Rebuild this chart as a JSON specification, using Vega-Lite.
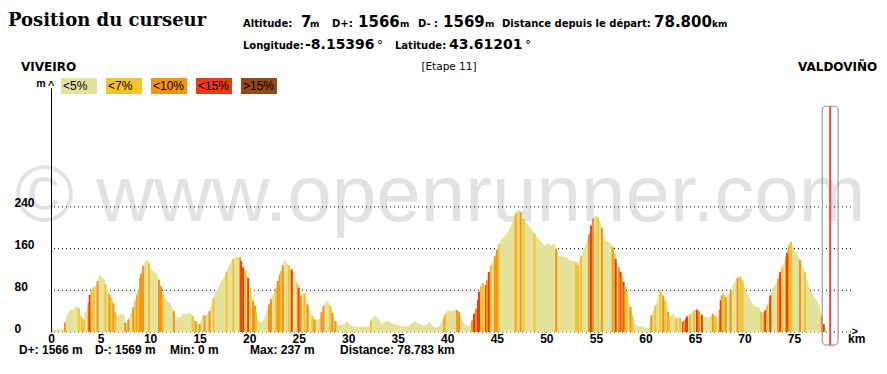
{
"$schema":"https://vega.github.io/schema/vega-lite/v6.json",
"width":800,"height":244,
"autosize":{"type":"none"},
"padding":{"left":51,"top":88,"right":36,"bottom":42},
"background":"white",
"config":{"view":{"stroke":null},"scale":{"continuousPadding":0}},
"datasets":{
"profile":[
{"km":0.0,"m":12,"g":"<5%"},{"km":0.1,"m":8,"g":"<5%"},{"km":0.2,"m":5,"g":"<5%"},{"km":1.3,"m":5,"g":"<5%"},{"km":1.4,"m":18,"g":"<10%"},{"km":1.6,"m":31,"g":"<5%"},{"km":1.9,"m":42,"g":"<5%"},{"km":2.3,"m":44,"g":"<5%"},{"km":2.6,"m":50,"g":"<5%"},{"km":2.8,"m":46,"g":"<7%"},{"km":2.9,"m":37,"g":"<5%"},{"km":3.1,"m":28,"g":"<7%"},{"km":3.3,"m":24,"g":"<7%"},{"km":3.4,"m":37,"g":"<5%"},{"km":3.6,"m":43,"g":"<5%"},{"km":3.8,"m":56,"g":"<10%"},{"km":3.9,"m":71,"g":"<15%"},{"km":4.1,"m":80,"g":"<7%"},{"km":4.3,"m":86,"g":"<7%"},{"km":4.6,"m":92,"g":"<5%"},{"km":4.7,"m":98,"g":"<10%"},{"km":4.9,"m":111,"g":"<5%"},{"km":5.1,"m":106,"g":"<5%"},{"km":5.4,"m":101,"g":"<5%"},{"km":5.5,"m":92,"g":"<7%"},{"km":5.9,"m":72,"g":"<10%"},{"km":6.1,"m":66,"g":"<7%"},{"km":6.3,"m":55,"g":"<10%"},{"km":6.5,"m":38,"g":"<7%"},{"km":6.7,"m":31,"g":"<5%"},{"km":7.0,"m":35,"g":"<5%"},{"km":7.4,"m":34,"g":"<5%"},{"km":7.5,"m":18,"g":"<10%"},{"km":7.7,"m":15,"g":"<5%"},{"km":7.8,"m":24,"g":"<10%"},{"km":8.0,"m":34,"g":"<5%"},{"km":8.3,"m":47,"g":"<10%"},{"km":8.5,"m":60,"g":"<7%"},{"km":8.7,"m":72,"g":"<10%"},{"km":8.8,"m":80,"g":"<7%"},{"km":9.0,"m":104,"g":"<10%"},{"km":9.1,"m":112,"g":"<10%"},{"km":9.3,"m":127,"g":"<10%"},{"km":9.5,"m":136,"g":"<5%"},{"km":9.8,"m":138,"g":"<5%"},{"km":9.9,"m":132,"g":"<7%"},{"km":10.0,"m":124,"g":"<5%"},{"km":10.3,"m":117,"g":"<5%"},{"km":10.7,"m":111,"g":"<5%"},{"km":10.9,"m":100,"g":"<10%"},{"km":11.0,"m":95,"g":"<5%"},{"km":11.1,"m":88,"g":"<10%"},{"km":11.3,"m":72,"g":"<7%"},{"km":11.7,"m":60,"g":"<5%"},{"km":12.0,"m":56,"g":"<5%"},{"km":12.3,"m":43,"g":"<5%"},{"km":12.4,"m":40,"g":"<10%"},{"km":12.7,"m":28,"g":"<5%"},{"km":13.0,"m":28,"g":"<5%"},{"km":13.3,"m":37,"g":"<5%"},{"km":13.6,"m":34,"g":"<5%"},{"km":14.0,"m":37,"g":"<5%"},{"km":14.3,"m":31,"g":"<7%"},{"km":14.6,"m":21,"g":"<10%"},{"km":15.0,"m":15,"g":"<10%"},{"km":15.3,"m":34,"g":"<5%"},{"km":15.5,"m":31,"g":"<10%"},{"km":15.9,"m":37,"g":"<5%"},{"km":16.0,"m":40,"g":"<10%"},{"km":16.2,"m":53,"g":"<5%"},{"km":16.4,"m":65,"g":"<7%"},{"km":16.5,"m":72,"g":"<5%"},{"km":16.9,"m":85,"g":"<5%"},{"km":17.2,"m":98,"g":"<5%"},{"km":17.6,"m":111,"g":"<5%"},{"km":17.7,"m":115,"g":"<7%"},{"km":17.9,"m":124,"g":"<5%"},{"km":18.2,"m":136,"g":"<5%"},{"km":18.4,"m":140,"g":"<7%"},{"km":18.6,"m":145,"g":"<5%"},{"km":19.1,"m":143,"g":"<10%"},{"km":19.2,"m":136,"g":"<15%"},{"km":19.4,"m":124,"g":"<15%"},{"km":19.6,"m":117,"g":"<7%"},{"km":19.9,"m":104,"g":"<15%"},{"km":20.1,"m":85,"g":"<7%"},{"km":20.2,"m":72,"g":"<5%"},{"km":20.4,"m":60,"g":"<10%"},{"km":20.6,"m":50,"g":"<10%"},{"km":20.7,"m":40,"g":"<7%"},{"km":20.9,"m":24,"g":"<5%"},{"km":21.1,"m":18,"g":"<5%"},{"km":21.4,"m":21,"g":"<5%"},{"km":21.7,"m":34,"g":"<5%"},{"km":22.0,"m":53,"g":"<10%"},{"km":22.2,"m":63,"g":"<10%"},{"km":22.6,"m":79,"g":"<5%"},{"km":22.7,"m":85,"g":"<7%"},{"km":22.9,"m":98,"g":"<10%"},{"km":23.1,"m":110,"g":"<10%"},{"km":23.2,"m":117,"g":"<7%"},{"km":23.4,"m":128,"g":"<10%"},{"km":23.6,"m":140,"g":"<5%"},{"km":23.9,"m":130,"g":"<5%"},{"km":24.0,"m":128,"g":"<7%"},{"km":24.2,"m":124,"g":"<5%"},{"km":24.3,"m":120,"g":"<15%"},{"km":24.5,"m":114,"g":"<5%"},{"km":24.9,"m":92,"g":"<7%"},{"km":25.0,"m":85,"g":"<15%"},{"km":25.2,"m":70,"g":"<10%"},{"km":25.6,"m":75,"g":"<7%"},{"km":25.9,"m":53,"g":"<10%"},{"km":26.2,"m":40,"g":"<5%"},{"km":26.4,"m":30,"g":"<7%"},{"km":26.6,"m":24,"g":"<10%"},{"km":27.1,"m":24,"g":"<5%"},{"km":27.3,"m":38,"g":"<10%"},{"km":27.5,"m":50,"g":"<10%"},{"km":27.7,"m":60,"g":"<5%"},{"km":28.1,"m":56,"g":"<5%"},{"km":28.2,"m":50,"g":"<7%"},{"km":28.4,"m":37,"g":"<10%"},{"km":28.7,"m":21,"g":"<10%"},{"km":29.1,"m":13,"g":"<5%"},{"km":29.6,"m":15,"g":"<5%"},{"km":29.9,"m":20,"g":"<5%"},{"km":30.2,"m":13,"g":"<5%"},{"km":30.9,"m":10,"g":"<5%"},{"km":31.9,"m":10,"g":"<5%"},{"km":32.2,"m":13,"g":"<5%"},{"km":32.3,"m":22,"g":"<7%"},{"km":32.7,"m":32,"g":"<5%"},{"km":33.0,"m":26,"g":"<5%"},{"km":33.4,"m":16,"g":"<5%"},{"km":33.7,"m":19,"g":"<5%"},{"km":34.0,"m":21,"g":"<5%"},{"km":34.4,"m":17,"g":"<5%"},{"km":34.7,"m":15,"g":"<5%"},{"km":35.4,"m":11,"g":"<5%"},{"km":36.0,"m":11,"g":"<5%"},{"km":36.7,"m":21,"g":"<5%"},{"km":37.2,"m":15,"g":"<5%"},{"km":37.7,"m":11,"g":"<5%"},{"km":38.2,"m":19,"g":"<5%"},{"km":38.7,"m":8,"g":"<5%"},{"km":39.2,"m":11,"g":"<5%"},{"km":39.7,"m":29,"g":"<10%"},{"km":39.8,"m":35,"g":"<7%"},{"km":40.0,"m":42,"g":"<5%"},{"km":40.4,"m":40,"g":"<5%"},{"km":40.9,"m":43,"g":"<5%"},{"km":41.0,"m":42,"g":"<10%"},{"km":41.2,"m":38,"g":"<10%"},{"km":41.5,"m":22,"g":"<5%"},{"km":41.9,"m":13,"g":"<5%"},{"km":42.2,"m":10,"g":"<5%"},{"km":42.5,"m":22,"g":"<10%"},{"km":42.7,"m":35,"g":"<15%"},{"km":42.9,"m":45,"g":"<10%"},{"km":43.1,"m":62,"g":"<15%"},{"km":43.2,"m":77,"g":"<15%"},{"km":43.4,"m":88,"g":"<7%"},{"km":43.5,"m":96,"g":"<5%"},{"km":43.6,"m":94,"g":"<7%"},{"km":43.9,"m":90,"g":"<15%"},{"km":44.0,"m":99,"g":"<10%"},{"km":44.2,"m":115,"g":"<15%"},{"km":44.4,"m":128,"g":"<7%"},{"km":44.7,"m":138,"g":"<5%"},{"km":44.8,"m":145,"g":"<10%"},{"km":45.0,"m":157,"g":"<10%"},{"km":45.2,"m":168,"g":"<7%"},{"km":45.4,"m":176,"g":"<5%"},{"km":45.7,"m":182,"g":"<5%"},{"km":46.0,"m":189,"g":"<5%"},{"km":46.4,"m":202,"g":"<5%"},{"km":46.7,"m":218,"g":"<5%"},{"km":46.9,"m":226,"g":"<10%"},{"km":47.0,"m":230,"g":"<7%"},{"km":47.2,"m":235,"g":"<5%"},{"km":47.4,"m":230,"g":"<10%"},{"km":47.5,"m":227,"g":"<5%"},{"km":47.7,"m":218,"g":"<7%"},{"km":47.8,"m":214,"g":"<5%"},{"km":48.2,"m":205,"g":"<5%"},{"km":48.5,"m":198,"g":"<5%"},{"km":48.8,"m":189,"g":"<7%"},{"km":49.2,"m":179,"g":"<5%"},{"km":49.5,"m":173,"g":"<5%"},{"km":49.8,"m":166,"g":"<5%"},{"km":50.2,"m":171,"g":"<5%"},{"km":50.5,"m":166,"g":"<5%"},{"km":50.8,"m":170,"g":"<5%"},{"km":51.0,"m":160,"g":"<10%"},{"km":51.2,"m":147,"g":"<5%"},{"km":51.7,"m":144,"g":"<5%"},{"km":52.0,"m":144,"g":"<5%"},{"km":52.3,"m":138,"g":"<5%"},{"km":52.8,"m":136,"g":"<5%"},{"km":53.0,"m":134,"g":"<7%"},{"km":53.2,"m":128,"g":"<7%"},{"km":53.3,"m":138,"g":"<5%"},{"km":53.5,"m":146,"g":"<7%"},{"km":53.7,"m":154,"g":"<5%"},{"km":54.0,"m":170,"g":"<5%"},{"km":54.3,"m":187,"g":"<10%"},{"km":54.5,"m":204,"g":"<15%"},{"km":54.7,"m":218,"g":"<10%"},{"km":55.0,"m":224,"g":"<5%"},{"km":55.2,"m":220,"g":"<7%"},{"km":55.4,"m":214,"g":"<5%"},{"km":55.6,"m":200,"g":"<10%"},{"km":55.7,"m":195,"g":"<5%"},{"km":56.0,"m":176,"g":"<5%"},{"km":56.5,"m":170,"g":"<5%"},{"km":56.7,"m":163,"g":"<10%"},{"km":56.8,"m":157,"g":"<5%"},{"km":56.9,"m":150,"g":"<7%"},{"km":57.0,"m":140,"g":"<15%"},{"km":57.2,"m":128,"g":"<5%"},{"km":57.3,"m":124,"g":"<10%"},{"km":57.5,"m":115,"g":"<15%"},{"km":57.6,"m":106,"g":"<10%"},{"km":57.8,"m":96,"g":"<15%"},{"km":57.9,"m":88,"g":"<10%"},{"km":58.1,"m":78,"g":"<7%"},{"km":58.2,"m":70,"g":"<5%"},{"km":58.5,"m":48,"g":"<10%"},{"km":58.7,"m":30,"g":"<7%"},{"km":58.8,"m":19,"g":"<5%"},{"km":59.2,"m":11,"g":"<5%"},{"km":59.8,"m":10,"g":"<5%"},{"km":60.3,"m":6,"g":"<5%"},{"km":60.6,"m":32,"g":"<10%"},{"km":61.0,"m":51,"g":"<7%"},{"km":61.3,"m":67,"g":"<5%"},{"km":61.5,"m":80,"g":"<7%"},{"km":61.8,"m":70,"g":"<10%"},{"km":62.0,"m":60,"g":"<7%"},{"km":62.1,"m":51,"g":"<5%"},{"km":62.3,"m":38,"g":"<10%"},{"km":62.4,"m":29,"g":"<7%"},{"km":62.8,"m":35,"g":"<5%"},{"km":63.1,"m":26,"g":"<7%"},{"km":63.4,"m":29,"g":"<5%"},{"km":63.5,"m":27,"g":"<7%"},{"km":63.8,"m":19,"g":"<15%"},{"km":63.9,"m":22,"g":"<10%"},{"km":64.1,"m":26,"g":"<15%"},{"km":64.2,"m":30,"g":"<15%"},{"km":64.3,"m":32,"g":"<5%"},{"km":64.5,"m":34,"g":"<7%"},{"km":64.6,"m":35,"g":"<5%"},{"km":64.9,"m":41,"g":"<7%"},{"km":65.0,"m":42,"g":"<5%"},{"km":65.2,"m":43,"g":"<15%"},{"km":65.3,"m":43,"g":"<5%"},{"km":65.4,"m":40,"g":"<10%"},{"km":65.6,"m":35,"g":"<5%"},{"km":65.7,"m":33,"g":"<15%"},{"km":66.0,"m":29,"g":"<5%"},{"km":66.5,"m":28,"g":"<5%"},{"km":66.8,"m":35,"g":"<10%"},{"km":67.0,"m":32,"g":"<7%"},{"km":67.1,"m":29,"g":"<7%"},{"km":67.3,"m":19,"g":"<5%"},{"km":67.5,"m":42,"g":"<10%"},{"km":67.6,"m":61,"g":">15%"},{"km":67.7,"m":70,"g":"<10%"},{"km":67.8,"m":77,"g":"<5%"},{"km":67.9,"m":73,"g":"<7%"},{"km":68.1,"m":67,"g":"<10%"},{"km":68.5,"m":74,"g":"<5%"},{"km":68.6,"m":78,"g":"<10%"},{"km":68.8,"m":90,"g":"<5%"},{"km":69.1,"m":99,"g":"<5%"},{"km":69.3,"m":104,"g":"<10%"},{"km":69.5,"m":109,"g":"<5%"},{"km":69.6,"m":106,"g":"<7%"},{"km":69.8,"m":99,"g":"<7%"},{"km":70.1,"m":83,"g":"<5%"},{"km":70.5,"m":67,"g":"<5%"},{"km":70.8,"m":54,"g":"<5%"},{"km":71.1,"m":48,"g":"<5%"},{"km":71.5,"m":47,"g":"<5%"},{"km":71.7,"m":38,"g":"<7%"},{"km":71.8,"m":32,"g":"<5%"},{"km":72.0,"m":38,"g":"<10%"},{"km":72.1,"m":42,"g":"<15%"},{"km":72.3,"m":52,"g":"<7%"},{"km":72.5,"m":61,"g":"<5%"},{"km":72.6,"m":70,"g":"<15%"},{"km":72.8,"m":83,"g":"<5%"},{"km":73.1,"m":90,"g":"<5%"},{"km":73.4,"m":102,"g":"<10%"},{"km":73.6,"m":115,"g":"<15%"},{"km":73.8,"m":125,"g":"<7%"},{"km":74.1,"m":138,"g":"<5%"},{"km":74.2,"m":145,"g":"<10%"},{"km":74.3,"m":152,"g":"<15%"},{"km":74.4,"m":160,"g":"<5%"},{"km":74.5,"m":166,"g":"<10%"},{"km":74.6,"m":170,"g":"<7%"},{"km":74.7,"m":173,"g":"<7%"},{"km":74.9,"m":163,"g":"<5%"},{"km":75.3,"m":150,"g":"<5%"},{"km":75.6,"m":138,"g":"<10%"},{"km":75.9,"m":125,"g":"<5%"},{"km":76.1,"m":115,"g":"<7%"},{"km":76.3,"m":102,"g":"<5%"},{"km":76.6,"m":83,"g":"<5%"},{"km":76.9,"m":70,"g":"<5%"},{"km":77.3,"m":61,"g":"<5%"},{"km":77.6,"m":48,"g":"<5%"},{"km":77.8,"m":30,"g":"<10%"},{"km":78.0,"m":15,"g":"<15%"},{"km":78.1,"m":10,"g":"<5%"},{"km":78.3,"m":3,"g":"<5%"}
]
},
"layer":[
{"data":{"values":[{"t":"© www.openrunner.com","km":-3.63,"m":213}]},
 "mark":{"type":"text","font":"Liberation Sans","fontSize":80,"color":"#e2e2e2","align":"left","baseline":"alphabetic"},
 "encoding":{"x":{"field":"km","type":"quantitative","scale":{"domain":[0,80.75],"nice":false,"zero":false,"padding":0}},
  "y":{"field":"m","type":"quantitative","scale":{"domain":[0,468],"nice":false,"zero":false}},
  "text":{"field":"t"}}},
{"data":{"values":[{"m":0},{"m":80},{"m":160},{"m":240}]},
 "mark":{"type":"rule","color":"black","strokeWidth":1,"strokeDash":[1,3]},
 "encoding":{"y":{"field":"m","type":"quantitative","scale":{"domain":[0,468],"nice":false,"zero":false}}}},
{"data":{"name":"profile"},
 "mark":{"type":"area","color":"#e5e39a","interpolate":"linear"},
 "encoding":{"x":{"field":"km","type":"quantitative","scale":{"domain":[0,80.75],"nice":false,"zero":false,"padding":0},
   "axis":{"values":[0,5,10,15,20,25,30,35,40,45,50,55,60,65,70,75],"grid":false,"domain":false,"ticks":false,"tickSize":0,"labelFont":"Liberation Sans","labelFontWeight":"bold","labelFontSize":12,"labelColor":"black","labelPadding":1,"title":null,"labelFlush":false,"labelOverlap":false,"zindex":1}},
  "y":{"field":"m","type":"quantitative","scale":{"domain":[0,468],"nice":false,"zero":false},
   "axis":{"values":[0,80,160,240],"grid":false,"domain":true,"domainColor":"black","domainWidth":1,"ticks":false,"tickSize":0,"labelAlign":"left","labelBaseline":"alphabetic","labelPadding":37,"labelFont":"Liberation Sans","labelFontWeight":"bold","labelFontSize":12,"labelColor":"black","title":null,"zindex":1}}}},
{"data":{"name":"profile"},
 "transform":[{"filter":"datum.g != '<5%'"}],
 "mark":{"type":"bar","width":2},
 "encoding":{"x":{"field":"km","type":"quantitative","scale":{"domain":[0,80.75],"nice":false,"zero":false,"padding":0}},
  "y":{"field":"m","type":"quantitative","scale":{"domain":[0,468],"nice":false,"zero":false}},
  "color":{"field":"g","type":"nominal","scale":{"domain":["<5%","<7%","<10%","<15%",">15%"],"range":["#e5e39a","#f4c22f","#f39314","#ec3b12","#9a4716"]},
   "legend":{"orient":"none","legendX":10,"legendY":-20,"direction":"horizontal","title":null,"symbolType":"M-1,-0.444H1V0.444H-1Z","symbolSize":1296,"symbolStrokeWidth":0,"symbolOpacity":1,"labelOffset":-34,"columnPadding":9,"labelFont":"Liberation Sans","labelFontSize":12,"labelColor":"black","padding":0}}}},
{"data":{"values":[{"km":77.85,"km2":79.45,"m":-25,"m2":433}]},
 "mark":{"type":"rect","fill":null,"fillOpacity":0,"stroke":"#9a9a9a","strokeWidth":1.2,"cornerRadius":4},
 "encoding":{"x":{"field":"km","type":"quantitative","scale":{"domain":[0,80.75],"nice":false,"zero":false,"padding":0}},"x2":{"field":"km2"},
  "y":{"field":"m","type":"quantitative","scale":{"domain":[0,468],"nice":false,"zero":false}},"y2":{"field":"m2"}}},
{"data":{"values":[{"km":78.65,"m":-25,"m2":433}]},
 "mark":{"type":"rule","color":"#e8483a","strokeWidth":2},
 "encoding":{"x":{"field":"km","type":"quantitative","scale":{"domain":[0,80.75],"nice":false,"zero":false,"padding":0}},
  "y":{"field":"m","type":"quantitative","scale":{"domain":[0,468],"nice":false,"zero":false}},"y2":{"field":"m2"}}},
{"data":{"values":[{"t":"Position du curseur","km":-4.34,"m":587}]},
 "mark":{"type":"text","font":"DejaVu Serif","fontWeight":"bold","fontSize":18,"color":"black","align":"left","baseline":"alphabetic"},
 "encoding":{"x":{"field":"km","type":"quantitative","scale":{"domain":[0,80.75],"nice":false,"zero":false,"padding":0}},
  "y":{"field":"m","type":"quantitative","scale":{"domain":[0,468],"nice":false,"zero":false}},"text":{"field":"t"}}},
{"data":{"values":[{"t":"Altitude:","km":19.38,"m":585},{"t":"D+:","km":28.36,"m":585},{"t":"D- :","km":37.04,"m":585},{"t":"Distance depuis le départ:","km":45.52,"m":585},{"t":"Longitude:","km":19.38,"m":543},{"t":"Latitude:","km":34.72,"m":543}]},
 "mark":{"type":"text","font":"DejaVu Sans","fontWeight":"bold","fontSize":10,"color":"black","align":"left","baseline":"alphabetic"},
 "encoding":{"x":{"field":"km","type":"quantitative","scale":{"domain":[0,80.75],"nice":false,"zero":false,"padding":0}},
  "y":{"field":"m","type":"quantitative","scale":{"domain":[0,468],"nice":false,"zero":false}},"text":{"field":"t"}}},
{"data":{"values":[{"t":"7","km":25.23,"m":585},{"t":"1566","km":30.99,"m":585},{"t":"1569","km":39.57,"m":585},{"t":"78.800","km":60.87,"m":585}]},
 "mark":{"type":"text","font":"DejaVu Sans","fontWeight":"bold","fontSize":15,"color":"black","align":"left","baseline":"alphabetic"},
 "encoding":{"x":{"field":"km","type":"quantitative","scale":{"domain":[0,80.75],"nice":false,"zero":false,"padding":0}},
  "y":{"field":"m","type":"quantitative","scale":{"domain":[0,468],"nice":false,"zero":false}},"text":{"field":"t"}}},
{"data":{"values":[{"t":"-8.15396","km":25.64,"m":543},{"t":"43.61201","km":40.17,"m":543}]},
 "mark":{"type":"text","font":"DejaVu Sans","fontWeight":"bold","fontSize":14,"color":"black","align":"left","baseline":"alphabetic"},
 "encoding":{"x":{"field":"km","type":"quantitative","scale":{"domain":[0,80.75],"nice":false,"zero":false,"padding":0}},
  "y":{"field":"m","type":"quantitative","scale":{"domain":[0,468],"nice":false,"zero":false}},"text":{"field":"t"}}},
{"data":{"values":[{"t":"m","km":26.14,"m":585},{"t":"m","km":35.23,"m":585},{"t":"m","km":43.81,"m":585},{"t":"km","km":66.72,"m":585}]},
 "mark":{"type":"text","font":"DejaVu Sans","fontWeight":"bold","fontSize":9,"color":"black","align":"left","baseline":"alphabetic"},
 "encoding":{"x":{"field":"km","type":"quantitative","scale":{"domain":[0,80.75],"nice":false,"zero":false,"padding":0}},
  "y":{"field":"m","type":"quantitative","scale":{"domain":[0,468],"nice":false,"zero":false}},"text":{"field":"t"}}},
{"data":{"values":[{"t":"°","km":32.91,"m":543},{"t":"°","km":47.84,"m":543}]},
 "mark":{"type":"text","font":"DejaVu Sans","fontSize":12,"color":"black","align":"left","baseline":"alphabetic"},
 "encoding":{"x":{"field":"km","type":"quantitative","scale":{"domain":[0,80.75],"nice":false,"zero":false,"padding":0}},
  "y":{"field":"m","type":"quantitative","scale":{"domain":[0,468],"nice":false,"zero":false}},"text":{"field":"t"}}},
{"data":{"values":[{"t":"VIVEIRO","km":-3.03,"m":500.6},{"t":"VALDOVIÑO","km":75.4,"m":500.6}]},
 "mark":{"type":"text","font":"DejaVu Sans","fontWeight":"bold","fontSize":12,"color":"black","align":"left","baseline":"alphabetic"},
 "encoding":{"x":{"field":"km","type":"quantitative","scale":{"domain":[0,80.75],"nice":false,"zero":false,"padding":0}},
  "y":{"field":"m","type":"quantitative","scale":{"domain":[0,468],"nice":false,"zero":false}},"text":{"field":"t"}}},
{"data":{"values":[{"t":"[Etape 11]","km":40.17,"m":502}]},
 "mark":{"type":"text","font":"DejaVu Sans","fontSize":10.5,"color":"black","align":"center","baseline":"alphabetic"},
 "encoding":{"x":{"field":"km","type":"quantitative","scale":{"domain":[0,80.75],"nice":false,"zero":false,"padding":0}},
  "y":{"field":"m","type":"quantitative","scale":{"domain":[0,468],"nice":false,"zero":false}},"text":{"field":"t"}}},
{"data":{"values":[{"t":"D+: 1566 m","km":-3.23,"m":-42.2},{"t":"D-: 1569 m","km":4.44,"m":-42.2},{"t":"Min: 0 m","km":12.01,"m":-42.2},{"t":"Max: 237 m","km":20.09,"m":-42.2},{"t":"Distance: 78.783 km","km":29.17,"m":-42.2},{"t":"km","km":80.45,"m":-21.1}]},
 "mark":{"type":"text","font":"Liberation Sans","fontWeight":"bold","fontSize":12,"color":"black","align":"left","baseline":"alphabetic"},
 "encoding":{"x":{"field":"km","type":"quantitative","scale":{"domain":[0,80.75],"nice":false,"zero":false,"padding":0}},
  "y":{"field":"m","type":"quantitative","scale":{"domain":[0,468],"nice":false,"zero":false}},"text":{"field":"t"}}},
{"data":{"values":[{"t":"m","km":-1.01,"m":470},{"t":"^","km":0,"m":467},{"t":">","km":81.13,"m":-5}]},
 "mark":{"type":"text","font":"Liberation Sans","fontWeight":"bold","fontSize":10.5,"color":"black","align":"center","baseline":"alphabetic"},
 "encoding":{"x":{"field":"km","type":"quantitative","scale":{"domain":[0,80.75],"nice":false,"zero":false,"padding":0}},
  "y":{"field":"m","type":"quantitative","scale":{"domain":[0,468],"nice":false,"zero":false}},"text":{"field":"t"}}}
]
}
